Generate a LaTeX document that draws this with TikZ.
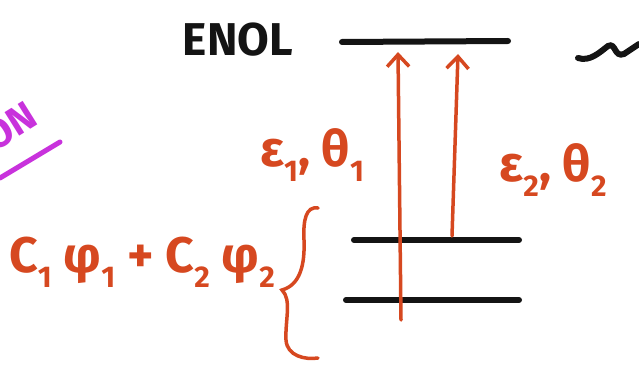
\documentclass[tikz,border=0pt]{standalone}
\usepackage{fontspec}
\setmainfont{Fira Sans}
\usetikzlibrary{arrows.meta}
\definecolor{pen}{RGB}{214,72,32}
\definecolor{ink}{RGB}{20,20,20}
\definecolor{violet}{RGB}{200,50,220}
\newcommand\lowsub[1]{\raisebox{-0.3em}{\fontsize{30}{30}\selectfont #1}}
\tikzset{
  level/.style={ink,line width=6pt,line cap=round},
  trans/.style={pen,line width=3.5pt,line cap=round,-{Straight Barb[length=12pt,width=22pt,line width=3.5pt]}},
  hand/.style={pen,inner sep=0pt,font=\bfseries\fontsize{50}{50}\selectfont},
}
\begin{document}
\begin{tikzpicture}[x=1pt,y=-1pt]
\useasboundingbox (0,0) rectangle (639,366);
\clip (0,0) rectangle (639,366);
% energy levels
\coordinate (t1) at (342,42); \coordinate (t2) at (508,41);
\coordinate (m1) at (354,240); \coordinate (m2) at (519,240);
\coordinate (b1) at (346,300); \coordinate (b2) at (519,300);
\draw[level] (t1) -- (t2);
\draw[level] (m1) -- (m2);
\draw[level] (b1) -- (b2);
% transitions
\coordinate (a1s) at (401,320); \coordinate (a1e) at (398,52);
\coordinate (a2s) at (452,236); \coordinate (a2e) at (458,54);
\draw[trans] (a1s) -- (a1e);
\draw[trans] (a2s) -- (a2e);
% labels
\node[font=\bfseries\fontsize{46}{46}\selectfont,ink,anchor=center] (enol) at (238,40) {ENOL};
\node[hand] (l1) at (312,155) {ε\lowsub{1}, θ\lowsub{1}};
\node[hand] (l2) at (553,170) {ε\lowsub{2}, θ\lowsub{2}};
\node[hand] (psi) at (142,262) {C\lowsub{1} φ\lowsub{1} + C\lowsub{2} φ\lowsub{2}};
% brace
\draw[pen,line width=3.5pt,line cap=round] (318,208) .. controls (306,206) and (303,220) .. (304,240)
  .. controls (305,265) and (300,285) .. (282,290)
  .. controls (292,300) and (285,320) .. (286,340)
  .. controls (287,356) and (305,360) .. (318,358);
% squiggle
\draw[ink,line width=6pt,line cap=round] (578,58) .. controls (590,62) and (600,52) .. (608,46)
  .. controls (616,42) and (614,58) .. (624,54) -- (639,44);
% purple fragment
\node[violet,font=\bfseries\fontsize{40}{40}\selectfont,rotate=32] (on) at (10,126) {ON};
\draw[violet,line width=5pt,line cap=round] (0,178) -- (60,142);
\end{tikzpicture}
\end{document}
